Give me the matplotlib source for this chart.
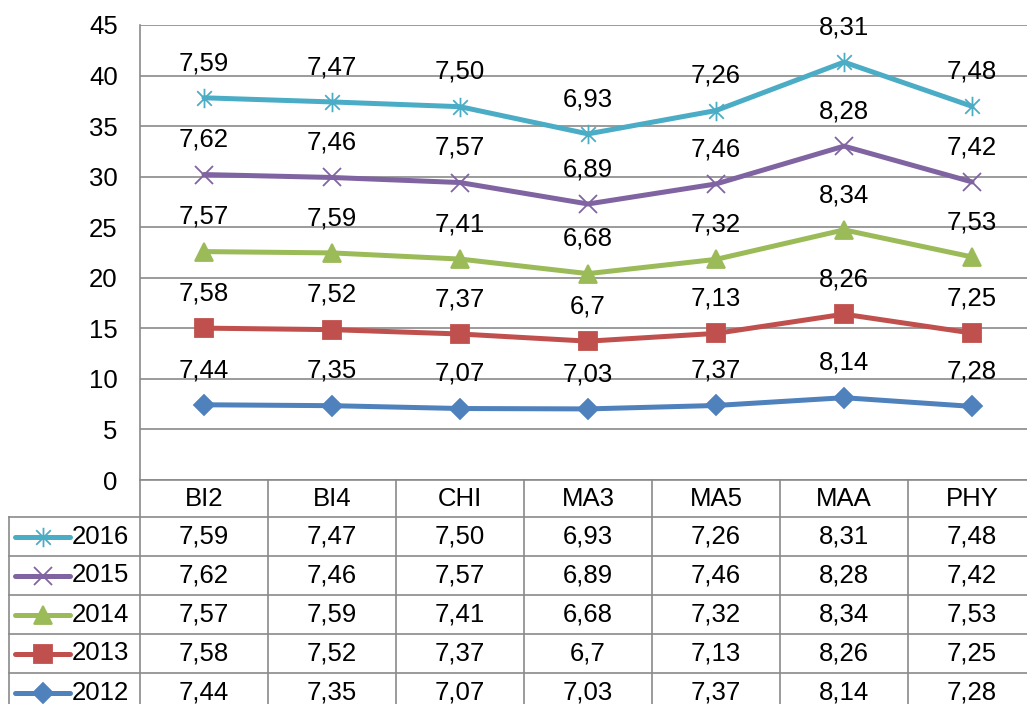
import numpy as np
import matplotlib
matplotlib.use("Agg")
import matplotlib.pyplot as plt
from matplotlib.path import Path

plt.rcParams['font.family'] = ['Liberation Sans', 'DejaVu Sans']

categories = ["BI2", "BI4", "CHI", "MA3", "MA5", "MAA", "PHY"]
years = ["2012", "2013", "2014", "2015", "2016"]
v2012 = [7.44, 7.35, 7.07, 7.03, 7.37, 8.14, 7.28]
v2013 = [7.58, 7.52, 7.37, 6.70, 7.13, 8.26, 7.25]
v2014 = [7.57, 7.59, 7.41, 6.68, 7.32, 8.34, 7.53]
v2015 = [7.62, 7.46, 7.57, 6.89, 7.46, 8.28, 7.42]
v2016 = [7.59, 7.47, 7.50, 6.93, 7.26, 8.31, 7.48]
# labels as shown (Excel keeps trailing zero only where the source had it)
lab2013 = ["7,58", "7,52", "7,37", "6,7", "7,13", "8,26", "7,25"]
lab2016 = ["7,59", "7,47", "7,50", "6,93", "7,26", "8,31", "7,48"]

series = [v2012, v2013, v2014, v2015, v2016]
colors = ["#4F81BD", "#C0504D", "#9BBB59", "#8064A2", "#4BACC6"]

star = Path([(0, -1), (0, 1), (-0.75, -0.75), (0.75, 0.75), (-0.75, 0.75), (0.75, -0.75)],
            [Path.MOVETO, Path.LINETO, Path.MOVETO, Path.LINETO, Path.MOVETO, Path.LINETO])
markers = ["D", "s", "^", "x", star]
msizes = [10, 13, 13, 13, 14]
FS = 18.5


def fmt(v):
    return ("%.2f" % v).replace(".", ",")


labels = []
for i, s in enumerate(series):
    if i == 1:
        labels.append(lab2013)
    elif i == 4:
        labels.append(lab2016)
    else:
        labels.append([fmt(v) for v in s])

W, H = 1027, 704
fig = plt.figure(figsize=(W / 100, H / 100), dpi=100)

# plot area in pixels
left, top, bottom = 140, 25, 480
colw = 128
ax = fig.add_axes([left / W, (H - bottom) / H, 7 * colw / W, (bottom - top) / H])
ax.patch.set_alpha(0)

grid_c = "#8a8a8a"
x = np.arange(len(categories))
stack = np.cumsum(np.array(series), axis=0)

for i in range(len(series)):
    ax.plot(x, stack[i], color=colors[i], lw=3.6, marker=markers[i], ms=msizes[i],
            mfc=colors[i], mec=colors[i], mew=1.3, zorder=3, solid_capstyle='round')
    for j in range(len(x)):
        ax.annotate(labels[i][j], (x[j], stack[i][j]), xytext=(0, 25),
                    textcoords="offset points", ha="center", va="center",
                    fontsize=FS, annotation_clip=False)

ax.set_xlim(-0.5, 6.5)
ax.set_ylim(0, 45)
ax.set_yticks(range(0, 50, 5))
ax.yaxis.grid(True, color=grid_c, lw=1.2)
ax.set_axisbelow(True)
ax.tick_params(axis='y', length=0, pad=16, labelsize=FS)
ax.tick_params(axis='x', length=0, labelbottom=False)
for sp in ["top", "right", "bottom"]:
    ax.spines[sp].set_visible(False)
ax.spines["left"].set_color(grid_c)
ax.spines["left"].set_linewidth(1.2)

# data table
tb = fig.add_axes([0, 0, 1, 1], zorder=-1)
tb.set_xlim(0, W)
tb.set_ylim(H, 0)
tb.axis("off")

row_top = 517
row_h = 39
tab_left = 9
right_edge = left + 7 * colw
tb.plot([left, right_edge], [bottom, bottom], color=grid_c, lw=1.2)
for r in range(6):
    yy = row_top + r * row_h
    tb.plot([tab_left, right_edge], [yy, yy], color=grid_c, lw=1.2)
tb.plot([tab_left, tab_left], [row_top, H + 5], color=grid_c, lw=1.2)
for c in range(1, 8):
    xx = left + c * colw
    tb.plot([xx, xx], [bottom, H + 5], color=grid_c, lw=1.2)
tb.plot([left, left], [bottom, H + 5], color=grid_c, lw=1.2)

for c, cat in enumerate(categories):
    tb.text(left + (c + 0.5) * colw, (bottom + row_top) / 2, cat, ha="center",
            va="center", fontsize=FS)

for r, i in enumerate(range(len(series) - 1, -1, -1)):
    yc = row_top + (r + 0.5) * row_h
    tb.plot([15, 70], [yc, yc], color=colors[i], lw=3.6, solid_capstyle='round')
    tb.plot([42.5], [yc], marker=markers[i], ms=msizes[i], color=colors[i],
            mfc=colors[i], mec=colors[i], mew=1.3)
    tb.text(72, yc, years[i], ha="left", va="center", fontsize=FS)
    for c in range(len(categories)):
        tb.text(left + (c + 0.5) * colw, yc, labels[i][c], ha="center",
                va="center", fontsize=FS)

fig.savefig("out.png", dpi=100)
